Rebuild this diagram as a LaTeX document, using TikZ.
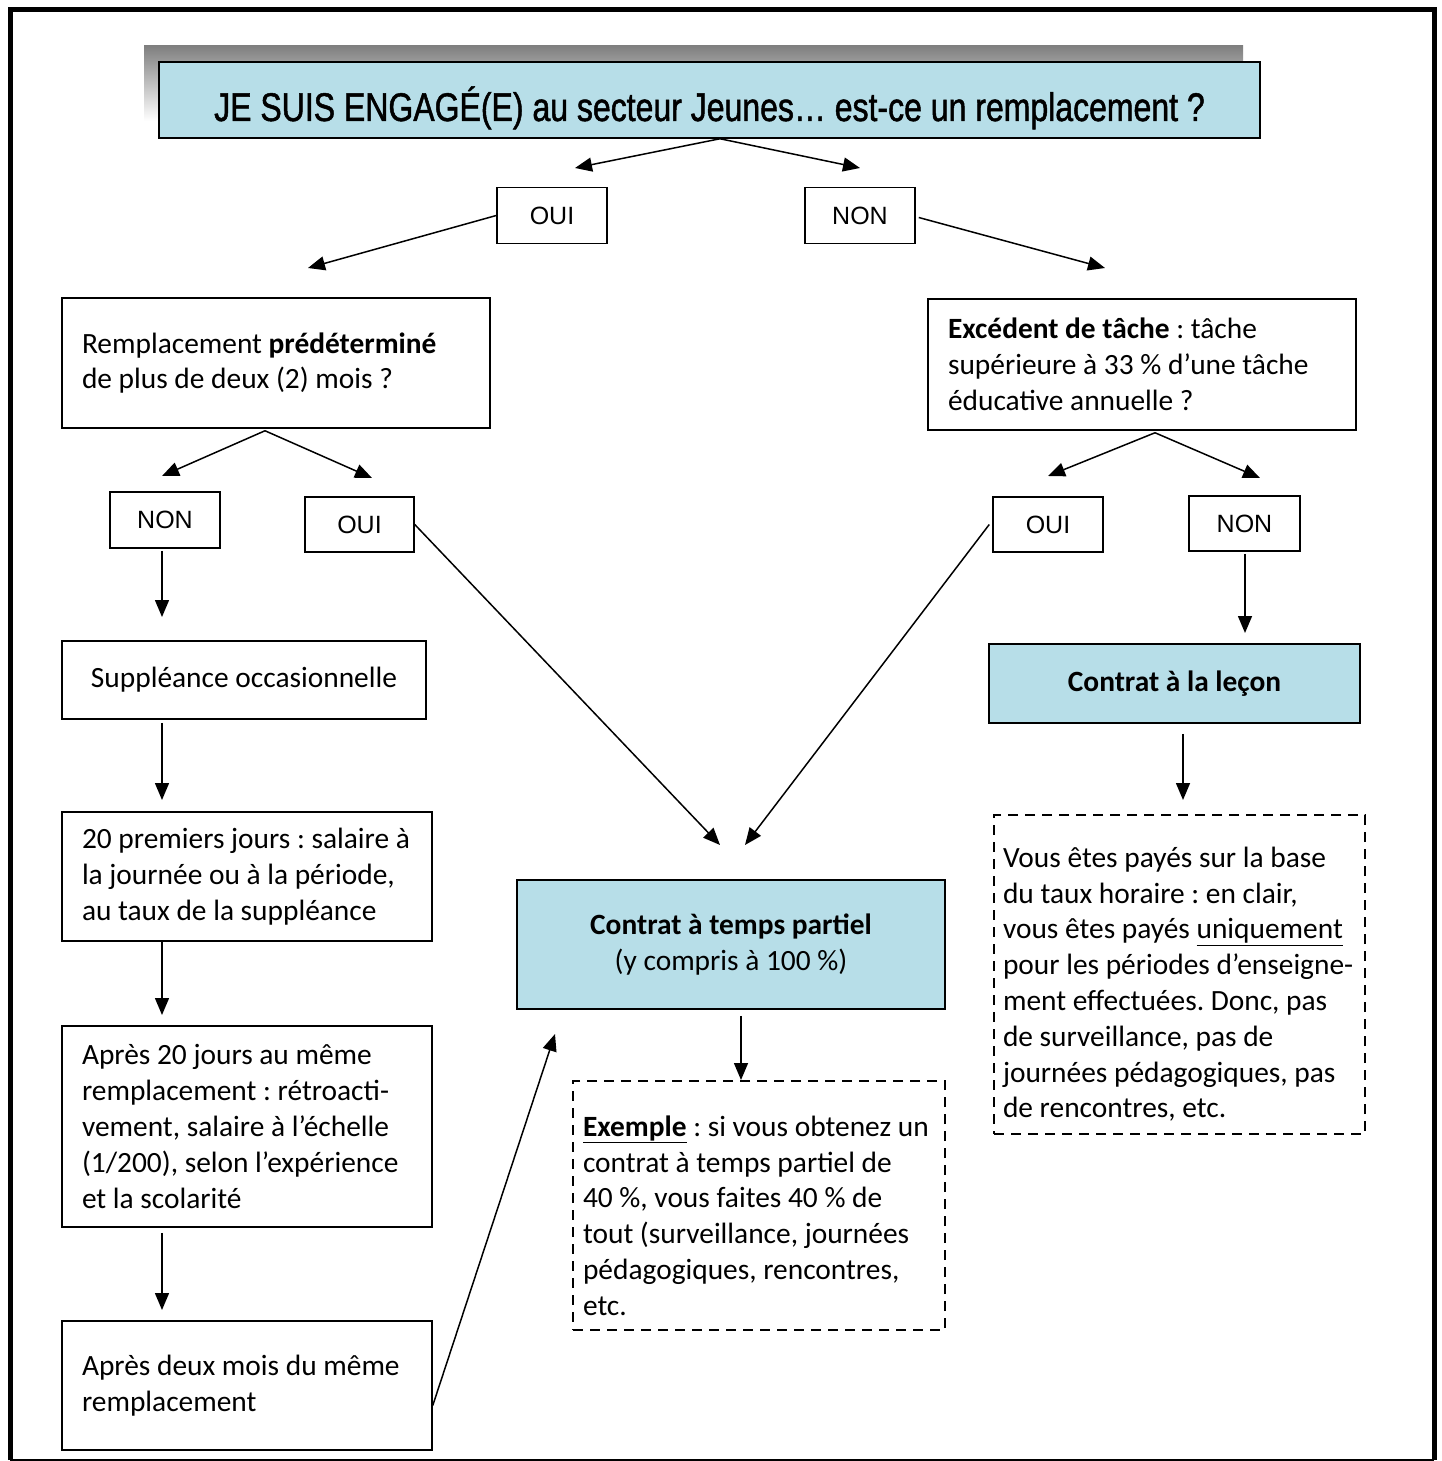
\documentclass[tikz,border=0pt]{standalone}
\usepackage{fontspec}
\setmainfont{Carlito}
\newfontfamily\titlefont[FakeStretch=0.80,FakeBold=1.2]{Liberation Sans}
\newfontfamily\ansfont{Liberation Sans}
\usetikzlibrary{arrows.meta}
\definecolor{lblue}{RGB}{183,222,232}
\definecolor{shade}{RGB}{135,135,135}
\frenchspacing
\begin{document}
\begin{tikzpicture}[x=1pt,y=-1pt,
  every node/.style={font=\fontsize{29.4}{35.8}\selectfont},
  box/.style={draw, line width=1.5pt, rectangle},
  ans/.style={box, minimum width=110pt, minimum height=56pt, inner sep=0pt, font=\ansfont\fontsize{25}{30}\selectfont},
  dbox/.style={box, dash pattern=on 10pt off 7pt},
  arr/.style={line width=1.5pt, -{Triangle[length=17pt,width=14pt]}}]
\useasboundingbox (0,0) rectangle (1442,1461);
% frame
\draw[line width=5pt] (10,1460) -- (10,9.5) -- (1434,9.5) -- (1434,1460);
\draw[line width=1.5pt] (10,1460) -- (1434,1460);
% title
\fill[shade] (144,46) rectangle (1243,121);
\node[box, fill=lblue, minimum width=1101pt, minimum height=76pt, inner sep=0pt,
  text height=42pt, text depth=0pt,
  font=\titlefont\fontsize{40}{48}\selectfont] (title) at (709.5,100)
  {JE SUIS ENGAGÉ(E) au secteur Jeunes… est-ce un remplacement ?};
% answers
\node[ans] (oui1) at (552,215.5) {OUI};
\node[ans] (non1) at (860,215.5) {NON};
\node[ans] (nona) at (165,520) {NON};
\node[ans, minimum width=109pt, minimum height=55pt] (ouia) at (359.5,524.5) {OUI};
\node[ans, minimum height=55pt] (ouib) at (1048,524.5) {OUI};
\node[ans, minimum width=111pt, minimum height=55pt] (nonb) at (1244.5,523.5) {NON};
% questions
\node[box, minimum width=428pt, minimum height=130pt, inner xsep=20pt, text width=388pt, align=flush left] (q1) at (276,363)
  {Remplacement \textbf{prédéterminé}\\de plus de deux (2) mois ?};
\node[box, minimum width=428pt, minimum height=131pt, inner xsep=20pt, text width=388pt, align=flush left] (q2) at (1142,364.5)
  {\textbf{Excédent de tâche} : tâche\\supérieure à 33 \% d’une tâche\\éducative annuelle ?};
% left column
\node[box, minimum width=364pt, minimum height=78pt, align=flush center] (supp) at (244,680) {Suppléance occasionnelle};
\node[box, minimum width=370pt, minimum height=129pt, inner xsep=20pt, text width=330pt, align=flush left] (j20) at (247,876.5)
  {20 premiers jours : salaire à\\la journée ou à la période,\\au taux de la suppléance};
\node[box, minimum width=370pt, minimum height=201pt, inner xsep=20pt, text width=330pt, align=flush left] (apres) at (247,1126.5)
  {Après 20 jours au même\\remplacement : rétroacti-\\vement, salaire à l’échelle\\(1/200), selon l’expérience\\et la scolarité};
\node[box, minimum width=370pt, minimum height=129pt, inner xsep=20pt, text width=330pt, align=flush left] (deux) at (247,1385.5)
  {Après deux mois du même\\remplacement};
% centre
\node[box, fill=lblue, minimum width=428pt, minimum height=129pt, align=flush center] (partiel) at (731,944.5)
  {\textbf{Contrat à temps partiel}\\(y compris à 100 \%)};
\node[dbox, minimum width=372pt, minimum height=249pt, inner xsep=10pt, text width=352pt, align=flush left] (ex) at (759,1205.5)
  {\rule{0pt}{41pt}\underline{\textbf{Exemple}} : si vous obtenez un\\contrat à temps partiel de\\40 \%, vous faites 40 \% de\\tout (surveillance, journées\\pédagogiques, rencontres,\\etc.};
% right column
\node[box, fill=lblue, minimum width=371pt, minimum height=79pt, align=flush center] (lecon) at (1174.5,683.5)
  {\textbf{Contrat à la leçon}};
\node[dbox, minimum width=371pt, minimum height=319pt, inner xsep=9pt, text width=353pt, align=flush left] (payes) at (1179.5,974.5)
  {\rule{0pt}{40pt}Vous êtes payés sur la base\\du taux horaire : en clair,\\vous êtes payés \underline{uniquement}\\pour les périodes d’enseigne-\\ment effectuées. Donc, pas\\de surveillance, pas de\\journées pédagogiques, pas\\de rencontres, etc.};
% arrow ends
\coordinate (a1) at (575,168);
\coordinate (a2) at (860,168);
\coordinate (a3) at (308,268);
\coordinate (a4) at (1105,268);
\coordinate (a5) at (162,476);
\coordinate (a6) at (372,478);
\coordinate (a7) at (1048,476);
\coordinate (a8) at (1260,478);
\coordinate (a9) at (162,617);
\coordinate (a10) at (720,845);
\coordinate (a11) at (745,845);
\coordinate (a12) at (1245,633);
\coordinate (a13) at (162,800);
\coordinate (a14) at (162,1015);
\coordinate (a15) at (162,1310);
\coordinate (a16) at (555,1034);
\coordinate (a17) at (741,1080);
\coordinate (a18) at (1183,800);
% connectors
\draw[arr] ([xshift=10.5pt]title.south) -- (a1);
\draw[arr] ([xshift=10.5pt]title.south) -- (a2);
\draw[arr] (oui1.west) -- (a3);
\draw[arr] ([xshift=3pt,yshift=-2pt]non1.east) -- (a4);
\draw[arr] ([xshift=-11pt,yshift=-2pt]q1.south) -- (a5);
\draw[arr] ([xshift=-11pt,yshift=-2pt]q1.south) -- (a6);
\draw[arr] ([xshift=13pt,yshift=-2pt]q2.south) -- (a7);
\draw[arr] ([xshift=13pt,yshift=-2pt]q2.south) -- (a8);
\draw[arr] ([yshift=-2pt]a9 |- nona.south) -- (a9);
\draw[arr] (ouia.east) -- (a10);
\draw[arr] ([xshift=-3pt]ouib.west) -- (a11);
\draw[arr] ([yshift=-2pt]a12 |- nonb.south) -- (a12);
\draw[arr] ([yshift=-3pt]a13 |- supp.south) -- (a13);
\draw[arr] (a14 |- j20.south) -- (a14);
\draw[arr] ([yshift=-5pt]a15 |- apres.south) -- (a15);
\draw[arr] ([yshift=-20pt]deux.east) -- (a16);
\draw[arr] ([yshift=-6pt]a17 |- partiel.south) -- (a17);
\draw[arr] ([yshift=-10pt]a18 |- lecon.south) -- (a18);
\end{tikzpicture}
\end{document}
